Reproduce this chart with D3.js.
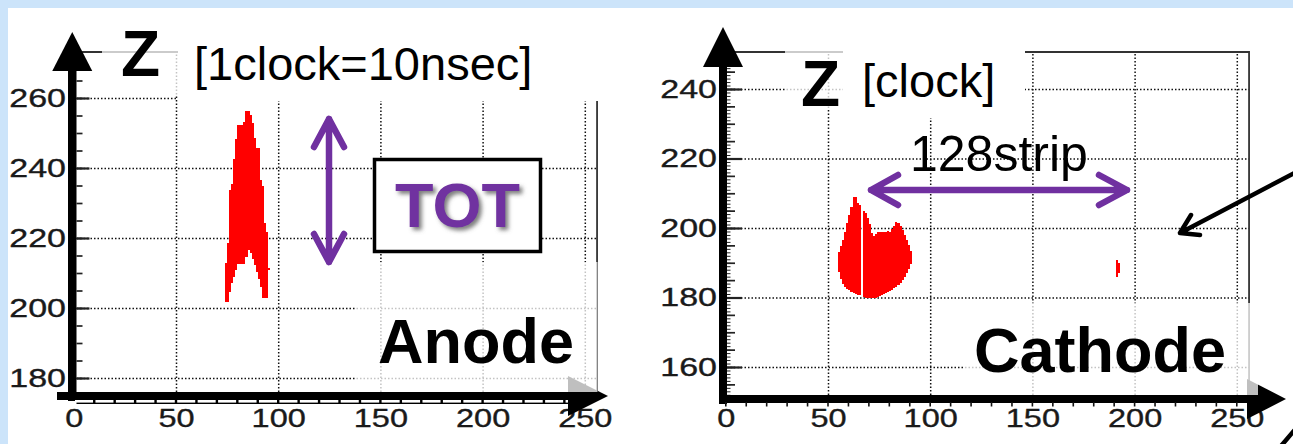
<!DOCTYPE html>
<html>
<head>
<meta charset="utf-8">
<script src="https://cdn.jsdelivr.net/npm/d3@7"></script>
<style>
  html, body { margin: 0; padding: 0; background: #fff; }
  svg { display: block; }
  text { font-family: "Liberation Sans", Arial, Helvetica, sans-serif; }
</style>
</head>
<body>
<svg id="chart" width="1293" height="444"></svg>
<script>
// ---------------- data ----------------
// horizontal axis: strip number, vertical axis: Z in clock units
const xTickValues = [0, 50, 100, 150, 200, 250];
const anodeZTicks = [180, 200, 220, 240, 260];
const cathodeZTicks = [160, 180, 200, 220, 240];

// anode hits: one Z interval per strip (time over threshold)
const anodeStrip = [74, 75, 76, 77, 78, 79, 80, 81, 82, 83, 84, 85, 86, 87, 88, 89, 90, 91, 92, 93, 94, 95];
const anodeZLow  = [201.7, 201.7, 204.5, 207.1, 208.9, 210.9, 212.6, 212.6, 212.6, 212.6, 214.6,
                    216.6, 215.7, 214.0, 212.3, 210.3, 208.3, 206.0, 202.9, 202.9, 202.9, 210.8];
const anodeZHigh = [212.9, 218.6, 233.7, 235.4, 242.6, 248.3, 252.3, 252.3, 252.3, 253.2, 256.4,
                    256.4, 255.1, 252.8, 248.5, 245.6, 245.6, 236.6, 235.0, 224.3, 221.7, 211.4];

// cathode hits (strip 66 is dead), plus an isolated hit near strip 191
const cathodeStrip = [55, 56, 57, 58, 59, 60, 61, 62, 63, 64, 65,
                      67, 68, 69, 70, 71, 72, 73, 74, 75, 76, 77, 78, 79, 80, 81, 82, 83, 84, 85, 86, 87, 88, 89, 90,
                      191, 192];
const cathodeZLow  = [187.3, 185.3, 183.9, 183.0, 182.4, 182.2, 181.6, 181.3, 181.0, 180.7, 180.7,
                      180.1, 179.9, 179.9, 179.9, 179.9, 179.9, 179.9, 180.1, 180.4, 180.7, 181.0, 181.3,
                      181.6, 181.9, 182.2, 182.7, 183.0, 183.6, 184.2, 184.9, 185.9, 187.0, 188.2, 189.5,
                      185.9, 187.0];
const cathodeZHigh = [193.1, 194.8, 196.5, 198.8, 201.4, 203.7, 206.0, 208.9, 208.9, 207.2, 206.6,
                      204.9, 204.3, 202.9, 201.2, 198.6, 197.7, 198.3, 198.8, 198.8, 198.8, 198.8, 198.8,
                      199.1, 198.8, 199.7, 200.6, 201.7, 201.4, 200.6, 199.4, 198.0, 196.5, 195.0, 193.5,
                      190.8, 189.9];

// ---------------- drawing ----------------
const svg = d3.select("#chart");
const PURPLE = "#7030a0";
const LABEL_STRETCH = 1.36;

// page background with a pale blue margin
svg.append("rect").attr("width", 1293).attr("height", 444).attr("fill", "#cce4fa");
svg.append("rect").attr("x", 8).attr("y", 8).attr("width", 1285).attr("height", 436).attr("fill", "#fff");

const defs = svg.append("defs");
const shadow = defs.append("filter").attr("id", "txtShadow")
  .attr("x", "-20%").attr("y", "-20%").attr("width", "140%").attr("height", "140%");
shadow.append("feDropShadow").attr("dx", 3).attr("dy", 3).attr("stdDeviation", 2)
  .attr("flood-color", "#666").attr("flood-opacity", 0.85);

function styleLabels(sel, sx) {
  sel.selectAll("text").attr("font-size", 25).attr("fill", "#1a1a1a")
    .attr("stroke", "#1a1a1a").attr("stroke-width", 0.35)
    .attr("font-family", "Liberation Sans, Arial, sans-serif")
    .attr("transform", `scale(${sx},1)`);
}

function drawPanel(p) {
  const g = svg.append("g");
  const x = d3.scaleLinear().domain([0, 250]).range(p.xRange);
  const y = d3.scaleLinear().domain(p.yDomain).range(p.yRange);
  const fL = p.axisX + p.axisW, fR = x(256), fT = p.frameTop, fB = p.frameBottom;

  // dotted grid
  const gx = g.append("g").attr("transform", `translate(0,${fB})`)
    .call(d3.axisBottom(x).tickValues(xTickValues.filter(v => v > 0)).tickSize(-(fB - fT)).tickFormat(""));
  const gy = g.append("g").attr("transform", `translate(${fL},0)`)
    .call(d3.axisLeft(y).tickValues(p.zTicks).tickSize(-(fR - fL)).tickFormat(""));
  [gx, gy].forEach(a => {
    a.select(".domain").remove();
    a.selectAll("line").attr("stroke", "#111").attr("stroke-width", 1.5).attr("stroke-dasharray", "1.5,2");
  });

  // frame (top and right)
  g.append("path")
    .attr("d", `M${fL},${fT}H${fR}V${fB}`)
    .attr("fill", "none").attr("stroke", "#333").attr("stroke-width", 1.8);

  // hit strips
  g.append("g").selectAll("rect").data(p.strip).join("rect")
    .attr("x", d => x(d))
    .attr("width", d => x(d + 1) - x(d))
    .attr("y", (d, i) => y(p.zHigh[i]))
    .attr("height", (d, i) => y(p.zLow[i]) - y(p.zHigh[i]))
    .attr("fill", "#ff0000")
    .attr("shape-rendering", "crispEdges");

  // y ticks: major, minor (5) and optional fine (1)
  const tickAxis = (vals, len, w) => {
    const a = g.append("g").attr("transform", `translate(${fL},0)`)
      .call(d3.axisRight(y).tickValues(vals).tickSize(len).tickFormat(""));
    a.select(".domain").remove();
    a.selectAll("line").attr("stroke", "#222").attr("stroke-width", w);
  };
  const zMin = y.invert(fB), zMax = y.invert(fT);
  if (p.fineTicks) tickAxis(d3.range(Math.ceil(zMin), zMax, 1), 3.5, 1);
  tickAxis(d3.range(Math.ceil(zMin / 5) * 5, zMax, 5), p.minorLen, 1.7);
  tickAxis(p.zTicks, p.majorLen, 2.2);

  // y tick labels (horizontally stretched)
  const ly = g.append("g").attr("transform", `translate(${p.axisX - 2},0)`)
    .call(d3.axisLeft(y).tickValues(p.zTicks).tickSize(0).tickPadding(0));
  ly.select(".domain").remove();
  styleLabels(ly, LABEL_STRETCH);

  // x tick labels
  const lx = g.append("g").attr("transform", `translate(0,409)`)
    .call(d3.axisBottom(x).tickValues(xTickValues).tickSize(0).tickPadding(0));
  lx.select(".domain").remove();
  styleLabels(lx, 1.3);

  // thick axis arrows
  g.append("rect").attr("x", p.axisX).attr("y", p.yArrowBase - 1)
    .attr("width", p.axisW).attr("height", p.barY + 10 - p.yArrowBase).attr("fill", "#000");
  g.append("path").attr("d", `M${p.axisX + p.axisW / 2},${p.yArrowTip}L${p.axisX + p.axisW / 2 - 20},${p.yArrowBase}H${p.axisX + p.axisW / 2 + 20}Z`)
    .attr("fill", "#000");
  g.append("rect").attr("x", p.barX0).attr("y", p.barY)
    .attr("width", p.xArrowBase - p.barX0 + 2).attr("height", 8).attr("fill", "#000");
  // minor ticks under the bar (every 10 strips)
  const minorX = d3.range(0, 251, 10);
  if (p.rulerBand) {
    g.append("rect").attr("x", fL).attr("y", p.barY + 7.5).attr("width", p.xArrowBase - fL).attr("height", 4.5).attr("fill", "#000");
    g.append("g").selectAll("rect").data(minorX.slice(0, -1)).join("rect")
      .attr("x", d => x(d) + 1.2).attr("width", d => x(d + 10) - x(d) - 2.4)
      .attr("y", p.barY + 8).attr("height", 2.6).attr("fill", "#fff");
  } else {
    g.append("g").selectAll("line").data(minorX).join("line")
      .attr("x1", d => x(d)).attr("x2", d => x(d))
      .attr("y1", p.barY + 7).attr("y2", p.barY + 11.5)
      .attr("stroke", "#111").attr("stroke-width", 1.6);
  }
  g.append("path").attr("d", `M${p.xArrowBase},${p.barY + 4 - 20}L${p.xArrowTip},${p.barY + 4}L${p.xArrowBase},${p.barY + 4 + 20}Z`)
    .attr("fill", "#000");

  // text boxes over the plot
  p.boxes.forEach(b => {
    g.append("rect").attr("x", b[0]).attr("y", b[1]).attr("width", b[2] - b[0]).attr("height", b[3] - b[1])
      .attr("fill", "#fff").attr("fill-opacity", b[4]);
  });

  return { g, x, y };
}

const left = drawPanel({
  xRange: [73.8, 584.8], yDomain: [180, 260], yRange: [378, 98],
  zTicks: anodeZTicks, strip: anodeStrip, zLow: anodeZLow, zHigh: anodeZHigh,
  axisX: 68, axisW: 8.5, frameTop: 52, frameBottom: 392,
  yArrowTip: 32, yArrowBase: 71, barX0: 57, barY: 392, xArrowBase: 568, xArrowTip: 608,
  majorLen: 13, minorLen: 6, fineTicks: false, rulerBand: true,
  boxes: [[102, 30, 178, 96, 0.75], [178, 22, 612, 101, 1], [355, 262, 597.5, 392, 0.75]]
});

const right = drawPanel({
  xRange: [725.8, 1236.8], yDomain: [160, 240], yRange: [367, 89],
  zTicks: cathodeZTicks, strip: cathodeStrip, zLow: cathodeZLow, zHigh: cathodeZHigh,
  axisX: 719, axisW: 8, frameTop: 52, frameBottom: 395,
  yArrowTip: 27, yArrowBase: 67, barX0: 725, barY: 395, xArrowBase: 1247, xArrowTip: 1286,
  majorLen: 15, minorLen: 8, fineTicks: true, rulerBand: false,
  boxes: [[785, 40, 843, 110, 0.75], [843, 28, 1025, 118, 1], [965, 303, 1258, 395, 0.75]]
});

// ---------------- annotations ----------------
const ann = svg.append("g");
const txt = (s, x, y, size, bold, extra) => {
  const t = ann.append("text").attr("x", x).attr("y", y).attr("font-size", size)
    .attr("font-weight", bold ? "bold" : "normal").attr("fill", "#000").text(s);
  if (extra) extra(t);
  return t;
};

txt("Z", 121, 76, 64, true);
txt("[1clock=10nsec]", 194, 80, 47, false);
txt("Z", 801, 106, 64, true);
txt("[clock]", 862, 97, 47, false);
txt("128strip", 910, 171, 50, false);
txt("Anode", 378, 363, 63, true);
txt("Cathode", 974, 372, 63, true);

// TOT box
ann.append("rect").attr("x", 374.5).attr("y", 159.5).attr("width", 166).attr("height", 92)
  .attr("fill", "#fff").attr("stroke", "#000").attr("stroke-width", 3.5);
txt("TOT", 457.5, 227, 63, true, t => t.attr("text-anchor", "middle").attr("fill", PURPLE).attr("filter", "url(#txtShadow)"));

// purple double arrows
const arrowStyle = sel => sel.attr("fill", "none").attr("stroke", PURPLE).attr("stroke-width", 6.5)
  .attr("stroke-linecap", "round").attr("stroke-linejoin", "round");
ann.append("path").attr("d", "M329,119V262M314,147L329,119L344,147M314,234L329,262L344,234").call(arrowStyle);
ann.append("path").attr("d", "M871,190H1127M898,175L871,190L898,205M1099,175L1127,190L1099,205").call(arrowStyle);

// black pointer arrows
const blackStyle = sel => sel.attr("fill", "none").attr("stroke", "#000").attr("stroke-width", 4.5)
  .attr("stroke-linecap", "round").attr("stroke-linejoin", "round");
ann.append("path").attr("d", "M1300,170L1180,233M1200,235L1180,233L1191,215").call(blackStyle);
ann.append("path").attr("d", "M1281,446L1298,426").call(blackStyle);
</script>
</body>
</html>
